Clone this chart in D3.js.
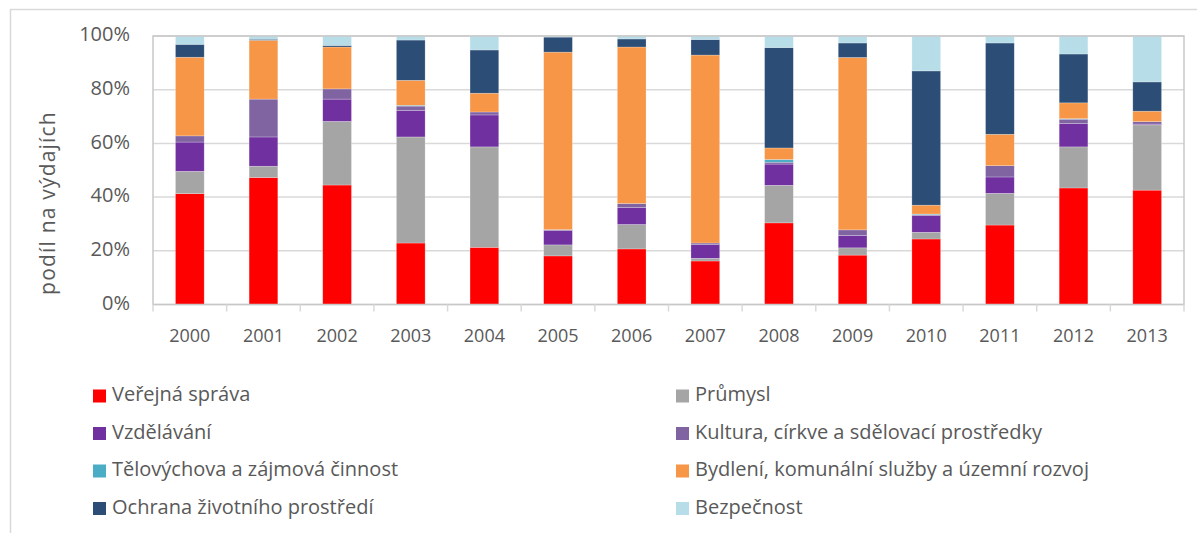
<!DOCTYPE html>
<html>
<head>
<meta charset="utf-8">
<script src="https://cdn.jsdelivr.net/npm/d3@7"></script>
<style>
  body { margin: 0; background: #fff; }
  svg { display: block; font-family: "Open Sans", sans-serif; }
</style>
</head>
<body>
<svg id="chart" width="1197" height="533"></svg>
<script>
// roky a podíly jednotlivých oblastí (v %)
var years = ["2000","2001","2002","2003","2004","2005","2006","2007","2008","2009","2010","2011","2012","2013"];
var seriesNames = [
    "Veřejná správa", "Průmysl", "Vzdělávání", "Kultura, církve a sdělovací prostředky",
    "Tělovýchova a zájmová činnost", "Bydlení, komunální služby a územní rozvoj",
    "Ochrana životního prostředí", "Bezpečnost"
];
var verejnaSprava = [41.3, 47.3, 44.5, 22.9, 21.3, 18.1, 20.7, 16.2, 30.4, 18.4, 24.4, 29.6, 43.4, 42.6];
var prumysl       = [ 8.3,  4.2, 23.7, 39.5, 37.4,  4.1,  9.1,  1.0, 14.0,  2.7,  2.5, 11.8, 15.3, 24.3];
var vzdelavani    = [10.9, 10.9,  8.3,  9.9, 11.9,  5.3,  6.3,  5.1,  7.9,  4.6,  6.2,  6.1,  8.7,  0.3];
var kultura       = [ 2.3, 14.1,  3.8,  1.6,  1.1,  0.4,  1.5,  0.6,  0.7,  2.1,  0.4,  4.2,  1.6,  0.9];
var telovychova   = [ 0.0,  0.0,  0.0,  0.3,  0.0,  0.0,  0.0,  0.0,  1.0,  0.0,  0.2,  0.0,  0.2,  0.0];
var bydleni       = [29.3, 21.9, 15.6,  9.3,  7.0, 66.1, 58.3, 70.0,  4.3, 64.2,  3.3, 11.7,  5.9,  3.9];
var ochrana       = [ 4.8,  0.4,  0.6, 15.0, 16.1,  5.6,  3.0,  5.8, 37.4,  5.4, 50.0, 34.0, 18.2, 10.9];
var bezpecnost    = [ 3.1,  1.2,  3.5,  1.5,  5.2,  0.4,  1.1,  1.3,  4.3,  2.6, 13.0,  2.6,  6.9, 17.1];
var colors = ["#ff0000", "#a5a5a5", "#7030a0", "#8064a2", "#4bacc6", "#f79646", "#2c4d75", "#b7dde8"];
var yTicks = [0, 20, 40, 60, 80, 100];

var allSeries = [verejnaSprava, prumysl, vzdelavani, kultura, telovychova, bydleni, ochrana, bezpecnost];

var table = years.map(function(yr, i) {
    var row = {year: yr};
    seriesNames.forEach(function(n, s) { row[n] = allSeries[s][i]; });
    return row;
});

var svg = d3.select("#chart");
var plotLeft = 153, plotRight = 1184, plotTop = 36, plotBottom = 304.5;

// vnější rámeček grafu
svg.append("path")
    .attr("d", "M10.5,533 L10.5,9.5 L1197,9.5")
    .attr("fill", "none")
    .attr("stroke", "#d9d9d9")
    .attr("stroke-width", 1.5);

var x = d3.scaleBand().domain(years).range([plotLeft, plotRight]).paddingInner(0.61).paddingOuter(0.305);
var xb = d3.scaleBand().domain(years).range([plotLeft, plotRight]);
var y = d3.scaleLinear().domain([0, 100]).range([plotBottom, plotTop]);

// mřížka
svg.append("g").selectAll("line").data(yTicks).join("line")
    .attr("x1", plotLeft).attr("x2", plotRight)
    .attr("y1", function(d) { return y(d); }).attr("y2", function(d) { return y(d); })
    .attr("stroke", "#d9d9d9").attr("stroke-width", 1.5);

var stack = d3.stack().keys(seriesNames)(table);

svg.append("g").selectAll("g").data(stack).join("g")
    .attr("fill", function(d, i) { return colors[i]; })
    .selectAll("rect").data(function(d) { return d; }).join("rect")
    .attr("x", function(d) { return x(d.data.year); })
    .attr("width", x.bandwidth())
    .attr("y", function(d) { return y(d[1]); })
    .attr("height", function(d) { return Math.max(0, y(d[0]) - y(d[1])); })
    .attr("stroke", "#ffffff").attr("stroke-opacity", 0.4).attr("stroke-width", 0.6);

// rámeček plochy
svg.append("rect")
    .attr("x", plotLeft).attr("y", plotTop).attr("width", plotRight - plotLeft).attr("height", plotBottom - plotTop)
    .attr("fill", "none").attr("stroke", "#c8c8c8").attr("stroke-width", 1.5);

// osa x
var xAxis = svg.append("g").attr("transform", "translate(0," + plotBottom + ")");
xAxis.selectAll("line").data(years.concat(["end"])).join("line")
    .attr("x1", function(d) { return d === "end" ? plotRight : xb(d); })
    .attr("x2", function(d) { return d === "end" ? plotRight : xb(d); })
    .attr("y1", 0).attr("y2", 7)
    .attr("stroke", "#d9d9d9").attr("stroke-width", 1.5);
xAxis.selectAll("text").data(years).join("text")
    .attr("x", function(d) { return xb(d) + xb.bandwidth() / 2; })
    .attr("y", 33)
    .attr("text-anchor", "middle")
    .attr("dominant-baseline", "middle")
    .attr("fill", "#595959")
    .style("font-size", "18px")
    .text(function(d) { return d; });

// osa y
svg.append("g").selectAll("text").data(yTicks).join("text")
    .attr("x", 130)
    .attr("y", function(d) { return y(d); })
    .attr("text-anchor", "end")
    .attr("dominant-baseline", "middle")
    .attr("fill", "#595959")
    .style("font-size", "20px")
    .text(function(d) { return d + "%"; });

svg.append("text")
    .attr("transform", "translate(49,203) rotate(-90)")
    .attr("text-anchor", "middle")
    .attr("dominant-baseline", "middle")
    .attr("fill", "#595959")
    .style("font-size", "21px")
    .style("letter-spacing", "1.2px")
    .text("podíl na výdajích");

// legenda
var legend = svg.append("g").selectAll("g").data(seriesNames).join("g")
    .attr("transform", function(d, i) {
        return "translate(" + (i % 2 === 0 ? 93 : 676) + "," + (396 + Math.floor(i / 2) * 37.5) + ")";
    });
legend.append("rect")
    .attr("x", 0).attr("y", -6.5).attr("width", 13).attr("height", 13)
    .attr("fill", function(d, i) { return colors[i]; });
legend.append("text")
    .attr("x", 19).attr("y", 0)
    .attr("dominant-baseline", "middle")
    .attr("fill", "#595959")
    .style("font-size", "20px")
    .text(function(d) { return d; });
</script>
</body>
</html>
